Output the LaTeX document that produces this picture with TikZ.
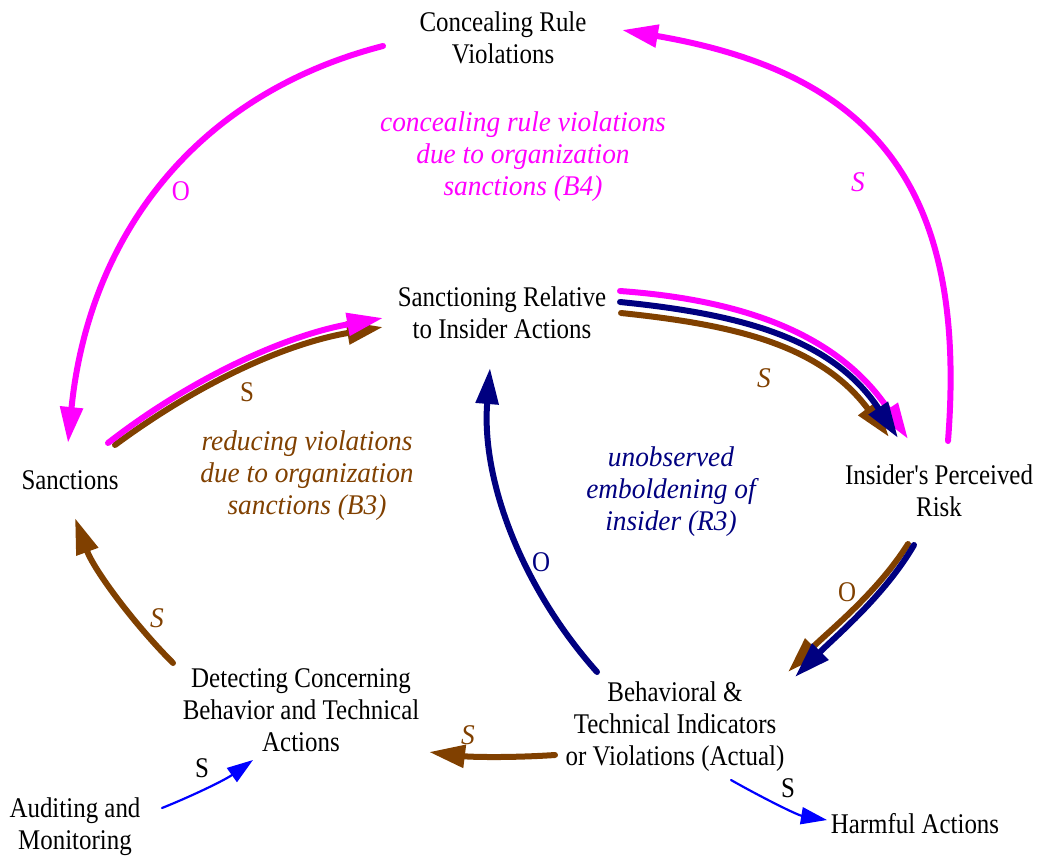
\documentclass[tikz,border=0pt]{standalone}
\usepackage{fontspec}
\newfontfamily\cldfamily{Liberation Serif}[FakeStretch=0.875, ItalicFeatures={FakeStretch=0.96}]
\usetikzlibrary{arrows.meta}

\definecolor{vmag}{RGB}{255,0,255}
\definecolor{vnavy}{RGB}{0,0,128}
\definecolor{vbrown}{RGB}{128,64,0}
\definecolor{vblue}{RGB}{0,0,255}
\newcommand\cldfont{\cldfamily\fontsize{28.5bp}{32bp}\selectfont}

\tikzset{
  var/.style={align=center, inner sep=0pt, font=\cldfont},
  loopname/.style={align=center, inner sep=0pt, font=\cldfont\itshape},
  sign/.style={inner sep=0pt, font=\cldfont},
  isign/.style={inner sep=0pt, font=\cldfont\itshape},
  link/.style={line width=6bp, line cap=round, -{Triangle[length=36bp,width=22bp]}},
  thinlink/.style={line width=2.2bp, line cap=round, vblue, -{Triangle[length=26bp,width=17bp]}},
}

\begin{document}
\begin{tikzpicture}[x=1bp, y=-1bp]
\useasboundingbox (0,0) rectangle (1042,858);

% variables
\node[var] (conceal) at (503,38) {Concealing Rule\\Violations};
\node[var] (sanc) at (502,313) {Sanctioning Relative\\to Insider Actions};
\node[var, anchor=base] (sanctions) at (70,489) {Sanctions};
\node[var] (insider) at (939,491) {Insider's Perceived\\Risk};
\node[var] (detect) at (301,710) {Detecting Concerning\\Behavior and Technical\\Actions};
\node[var] (behav) at (675,727) {Behavioral \&\\Technical Indicators\\or Violations (Actual)};
\node[var] (audit) at (75,827) {Auditing and\\Monitoring};
\node[var, anchor=base] (harm) at (915,833) {Harmful Actions};

% loop names
\node[loopname, vmag] (b4) at (523,157) {concealing rule violations\\due to organization\\sanctions (B4)};
\node[loopname, vbrown] (b3) at (307,476) {reducing violations\\due to organization\\sanctions (B3)};
\node[loopname, vnavy] (r3) at (671,492) {unobserved\\emboldening of\\insider (R3)};

% B4 loop
\draw[link, vmag] ([shift={(-120,8)}]conceal.center)
  .. controls (189,96) and (88,243) .. ([shift={(-2,-46)}]sanctions.base);
\draw[link, vmag] ([shift={(9,-50)}]insider.center)
  .. controls (968,186) and (873,73) .. ([shift={(119,-8)}]conceal.center);

% Sanctions -> Sanctioning Relative
\draw[link, vbrown] ([shift={(45,-44)}]sanctions.base)
  .. controls (196,385) and (283,344) .. ([shift={(-119,14)}]sanc.center);
\draw[link, vmag] ([shift={(38,-46)}]sanctions.base)
  .. controls (189,380) and (283,336) .. ([shift={(-119,5)}]sanc.center);

% Sanctioning Relative -> Insider's Perceived Risk
\draw[link, vbrown] ([shift={(119,0)}]sanc.center)
  .. controls (736,325) and (820,345) .. ([shift={(-50,-54)}]insider.center);
\draw[link, vmag] ([shift={(118,-22)}]sanc.center)
  .. controls (745,300) and (839,335) .. ([shift={(-31,-52)}]insider.center);
\draw[link, vnavy] ([shift={(118,-11)}]sanc.center)
  .. controls (740,314) and (832,338) .. ([shift={(-41,-53)}]insider.center);

% Insider's Perceived Risk -> Behavioral indicators
\draw[link, vbrown] ([shift={(-31,53)}]insider.center)
  .. controls (877,593) and (829,631) .. ([shift={(113,-55)}]behav.center);
\draw[link, vnavy] ([shift={(-25,54)}]insider.center)
  .. controls (885,595) and (836,636) .. ([shift={(120,-50)}]behav.center);

% Behavioral indicators -> Sanctioning Relative
\draw[link, vnavy] ([shift={(-78,-55)}]behav.center)
  .. controls (522,588) and (481,480) .. ([shift={(-12,55)}]sanc.center);

% Behavioral indicators -> Detecting
\draw[link, vbrown] ([shift={(-120,28)}]behav.center)
  .. controls (510,758) and (470,757) .. ([shift={(128,42)}]detect.center);

% Detecting -> Sanctions
\draw[link, vbrown] ([shift={(-128,-47)}]detect.center)
  .. controls (134,624) and (94,570) .. ([shift={(5,29)}]sanctions.base);

% exogenous links
\draw[thinlink] ([shift={(87,-19)}]audit.center)
  .. controls (192,796) and (225,780) .. ([shift={(-48,50)}]detect.center);
\draw[thinlink] ([shift={(56,53)}]behav.center)
  .. controls (761,797) and (797,815) .. ([shift={(-88,-13)}]harm.base);

% polarities
\node[sign, vmag] (p1) at (181,191) {O};
\node[isign, vmag] (p2) at (858,182) {S};
\node[sign, vbrown] (p3) at (247,392) {S};
\node[isign, vbrown] (p4) at (764,378) {S};
\node[sign, vnavy] (p5) at (541,562) {O};
\node[sign, vbrown] (p6) at (847,592) {O};
\node[isign, vbrown] (p7) at (468,735) {S};
\node[isign, vbrown] (p8) at (157,618) {S};
\node[sign] (p9) at (202,768) {S};
\node[sign] (p10) at (788,788) {S};
\end{tikzpicture}
\end{document}
